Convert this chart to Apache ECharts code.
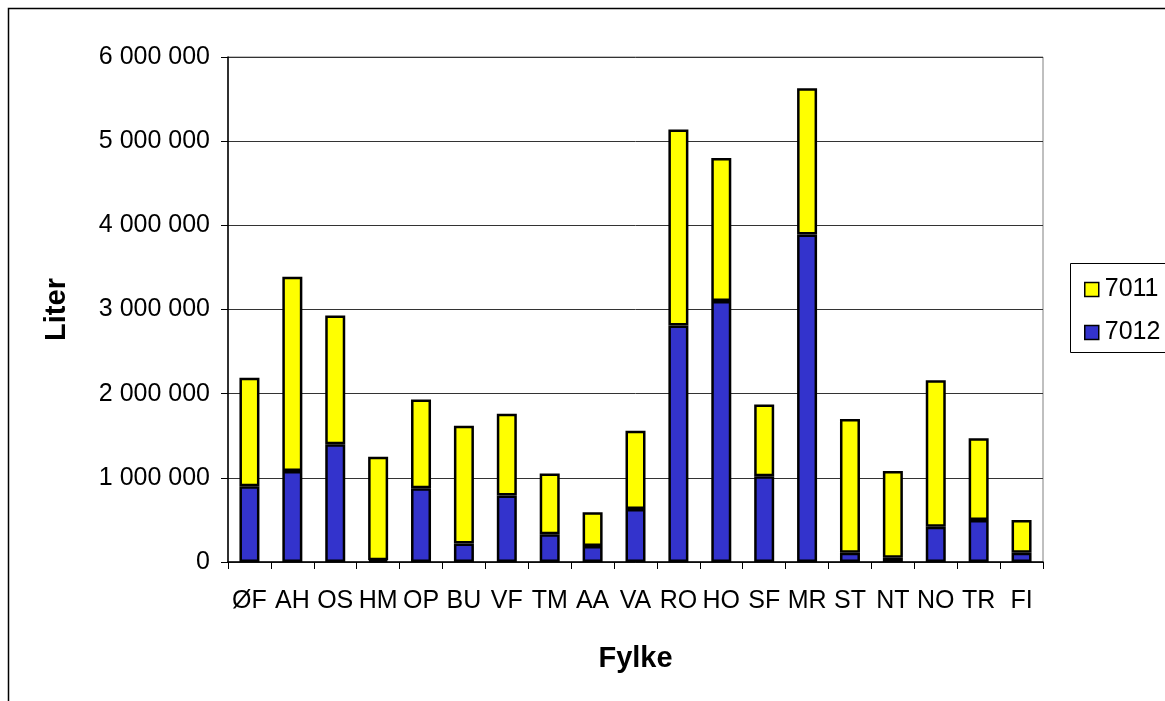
<!DOCTYPE html>
<html>
<head>
<meta charset="utf-8">
<script src="https://cdn.jsdelivr.net/npm/echarts@6/dist/echarts.min.js"></script>
<style>
html,body{margin:0;padding:0;background:#fff;}
#chart{width:1165px;height:701px;}
</style>
</head>
<body>
<div id="chart"></div>
<script>
const categories = ['ØF','AH','OS','HM','OP','BU','VF','TM','AA','VA','RO','HO','SF','MR','ST','NT','NO','TR','FI'];
const totals = [2190000,3390000,2930000,1250000,1930000,1620000,1760000,1050000,590000,1560000,5140000,4800000,1870000,5630000,1700000,1080000,2160000,1470000,500000];
// 7012 (bottom, blue)
const s7012 = [900000,1080000,1400000,20000,875000,220000,790000,330000,190000,630000,2810000,3100000,1020000,3890000,110000,50000,420000,500000,110000];
// 7011 (top, yellow) = total - 7012
const s7011 = totals.map((t,i)=>t - s7012[i]);
const yTicks = [0,1000000,2000000,3000000,4000000,5000000,6000000];

const font = 'Liberation Sans, Arial, sans-serif';
const chart = echarts.init(document.getElementById('chart'));
function fmt(v){ return String(v).replace(/\B(?=(\d{3})+(?!\d))/g,' '); }
chart.setOption({
  animation:false,
  backgroundColor:'#fff',
  graphic:[
    {type:'rect', shape:{x:8.5,y:8.5,width:1170,height:700}, style:{fill:'none',stroke:'#000',lineWidth:1.5}, silent:true, z:-10},
    {type:'rect', shape:{x:1070.5,y:263.5,width:100,height:89}, style:{fill:'#fff',stroke:'#000',lineWidth:1}, silent:true, z:-5}
  ],
  grid:{left:228,right:122,top:57,bottom:139,show:true,borderColor:'#808080',borderWidth:1,backgroundColor:'transparent'},
  legend:{
    orient:'vertical', left:1079, top:272, itemWidth:14, itemHeight:14, itemGap:18,
    icon:'rect',
    data:['7011','7012'],
    textStyle:{fontFamily:font,fontSize:25,color:'#000',padding:[0,0,0,1]},
    itemStyle:{borderColor:'#000',borderWidth:1.5}
  },
  xAxis:{
    type:'category', data:categories,
    name:'Fylke', nameLocation:'middle', nameGap:82,
    nameTextStyle:{fontFamily:font,fontSize:29,fontWeight:'bold',color:'#000'},
    axisLine:{lineStyle:{color:'#000',width:1.5}},
    axisTick:{show:true,alignWithLabel:false,length:7,lineStyle:{color:'#000'}},
    axisLabel:{interval:0,fontFamily:font,fontSize:25,color:'#000',margin:27}
  },
  yAxis:{
    type:'value', min:0, max:6000000, interval:1000000,
    name:'Liter', nameLocation:'middle', nameGap:157, nameRotate:90,
    nameTextStyle:{fontFamily:font,fontSize:29,fontWeight:'bold',color:'#000'},
    axisLine:{show:true,lineStyle:{color:'#000',width:1.5}},
    axisTick:{show:true,length:7,lineStyle:{color:'#000'}},
    axisLabel:{fontFamily:font,fontSize:25,color:'#000',margin:18,formatter:fmt},
    splitLine:{show:true,lineStyle:{color:'#333',width:1}}
  },
  series:[
    {name:'7012',type:'bar',stack:'t',data:s7012,barWidth:20,
     itemStyle:{color:'#3333CC',borderColor:'#000',borderWidth:2.5}},
    {name:'7011',type:'bar',stack:'t',data:s7011,barWidth:20,
     itemStyle:{color:'#FFFF00',borderColor:'#000',borderWidth:2.5}}
  ]
});
</script>
</body>
</html>
